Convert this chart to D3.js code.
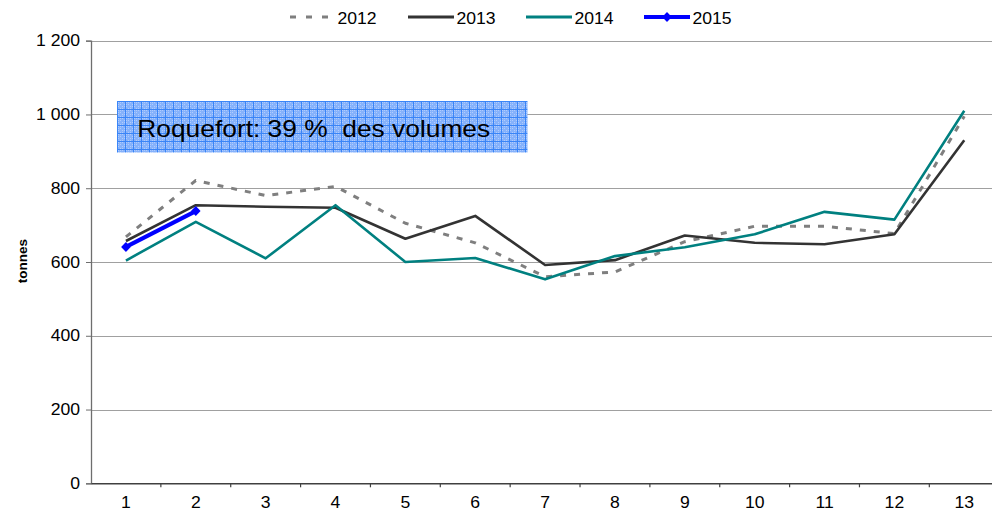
<!DOCTYPE html>
<html><head><meta charset="utf-8">
<script src="https://cdn.jsdelivr.net/npm/d3@7"></script>
<style>
html,body{margin:0;padding:0;background:#fff;}
svg{display:block;font-family:"Liberation Sans",Arial,sans-serif;}
</style></head>
<body><svg id="c" width="992" height="512"></svg>
<script>
const categories = ["1","2","3","4","5","6","7","8","9","10","11","12","13"];
const yTicks = [0, 200, 400, 600, 800, 1000, 1200];
const seriesNames = ["2012", "2013", "2014", "2015"];
const v2012 = [668, 821, 780, 805, 705, 652, 560, 573, 655, 697, 697, 677, 995];
const v2013 = [657, 754, 750, 747, 663, 725, 592, 605, 672, 652, 648, 675, 930];
const v2014 = [604, 709, 610, 754, 600, 611, 553, 616, 640, 675, 736, 715, 1010];
const v2015 = [641, 738];
const yLabel = "tonnes";
const note = "Roquefort: 39 %  des volumes";

const svg = d3.select("#c");
const W = 992, H = 512;
const left = 91, bandW = 69.86;
const x = d3.scaleBand().domain(categories).range([left, left + bandW * categories.length]).padding(0);
const y = d3.scaleLinear().domain([0, 1200]).range([483.3, 40.7]);
const frFmt = d3.formatLocale({decimal: ",", thousands: " ", grouping: [3], currency: ["", "€"]}).format(",d");
const SX = 1.1;

// gridlines
svg.append("g").selectAll("line").data(yTicks.filter(d => d > 0)).join("line")
  .attr("x1", left).attr("x2", W).attr("y1", d => Math.round(y(d)) + 0.5).attr("y2", d => Math.round(y(d)) + 0.5)
  .attr("stroke", "#a0a0a0").attr("stroke-width", 1);

// annotation box
const defs = svg.append("defs");
const pat = defs.append("pattern").attr("id", "blueGrid").attr("patternUnits", "userSpaceOnUse")
  .attr("x", 117).attr("y", 101).attr("width", 8).attr("height", 8);
pat.append("rect").attr("width", 8).attr("height", 8).attr("fill", "#86b2fb");
[[1,1],[3,3],[5,5],[1,5],[5,1],[3,7],[7,3],[1,3],[3,1],[5,7],[7,5]].forEach(([a,b]) =>
  pat.append("rect").attr("x", a).attr("y", b).attr("width", 1).attr("height", 1).attr("fill", "#b0ccfd"));
pat.append("path").attr("d", "M0 0.5H8M0.5 0V8").attr("stroke", "#3a85f7").attr("stroke-width", 1);
svg.append("rect").attr("x", 117).attr("y", 101).attr("width", 410.5).attr("height", 51.5).attr("fill", "url(#blueGrid)");
svg.append("text").attr("transform", "translate(137.3,136.7) scale(1.146,1)")
  .attr("font-size", 23).attr("fill", "#000").style("white-space", "pre").text(note);

// y axis
const yAxis = svg.append("g").attr("transform", `translate(${left},0)`)
  .call(d3.axisLeft(y).tickValues(yTicks).tickFormat(frFmt).tickSize(5).tickPadding(5));
yAxis.select(".domain").attr("stroke", "#6e6e6e").attr("stroke-width", 1.3);
yAxis.selectAll(".tick line").attr("stroke", "#6e6e6e");
yAxis.selectAll(".tick text").attr("font-size", 16).attr("font-family", "Liberation Sans, Arial, sans-serif")
  .attr("fill", "#000").attr("transform", `scale(${SX},1)`);

// x axis
const xAxis = svg.append("g").attr("transform", `translate(0,${y(0)})`)
  .call(d3.axisBottom(x).tickSize(0).tickPadding(13.5));
xAxis.select(".domain").attr("stroke", "#404040").attr("stroke-width", 1.5);
xAxis.selectAll(".tick text").attr("font-size", 16).attr("font-family", "Liberation Sans, Arial, sans-serif")
  .attr("fill", "#000").attr("transform", `scale(${SX},1)`);
svg.append("g").selectAll("line").data(categories).join("line")
  .attr("x1", d => x(d) + bandW).attr("x2", d => x(d) + bandW)
  .attr("y1", y(0)).attr("y2", y(0) + 4).attr("stroke", "#404040").attr("stroke-width", 1.2);

// y label
svg.append("text").attr("transform", "translate(27.3,261) rotate(-90)")
  .attr("text-anchor", "middle").attr("font-size", 13.5).attr("font-weight", "bold").text(yLabel);

// lines
const cx = (d, i) => x(categories[i]) + bandW / 2;
const line = d3.line().x(cx).y(d => y(d));
const styles = [
  {data: v2012, stroke: "#7f7f7f", w: 3, dash: "6,8"},
  {data: v2013, stroke: "#333333", w: 2.6, dash: null},
  {data: v2014, stroke: "#008080", w: 2.6, dash: null},
  {data: v2015, stroke: "#0000ff", w: 4, dash: null}
];
styles.forEach(s => {
  svg.append("path").datum(s.data).attr("d", line).attr("fill", "none")
    .attr("stroke", s.stroke).attr("stroke-width", s.w).attr("stroke-linejoin", "round")
    .attr("stroke-dasharray", s.dash);
});
const diamond = "M0,-5L4.8,0L0,5L-4.8,0Z";
svg.append("g").selectAll("path").data(v2015).join("path")
  .attr("transform", (d, i) => `translate(${cx(d, i)},${y(d)})`).attr("d", diamond).attr("fill", "#0000ff");

// legend
const legX = [290, 408, 526, 644];
const leg = svg.append("g");
seriesNames.forEach((n, i) => {
  const s = styles[i], x0 = legX[i];
  leg.append("line").attr("x1", x0).attr("x2", x0 + (i === 0 ? 38 : 46)).attr("y1", 17).attr("y2", 17)
    .attr("stroke", s.stroke).attr("stroke-width", i === 3 ? 4 : 3)
    .attr("stroke-dasharray", i === 0 ? "6,10" : null);
  if (i === 3) leg.append("path").attr("transform", `translate(${x0 + 23},17)`).attr("d", diamond).attr("fill", "#0000ff");
  leg.append("text").attr("transform", `translate(${x0 + (i === 0 ? 47.5 : 48.5)},24) scale(${SX},1)`)
    .attr("font-size", 16).text(n);
});
</script></body></html>
